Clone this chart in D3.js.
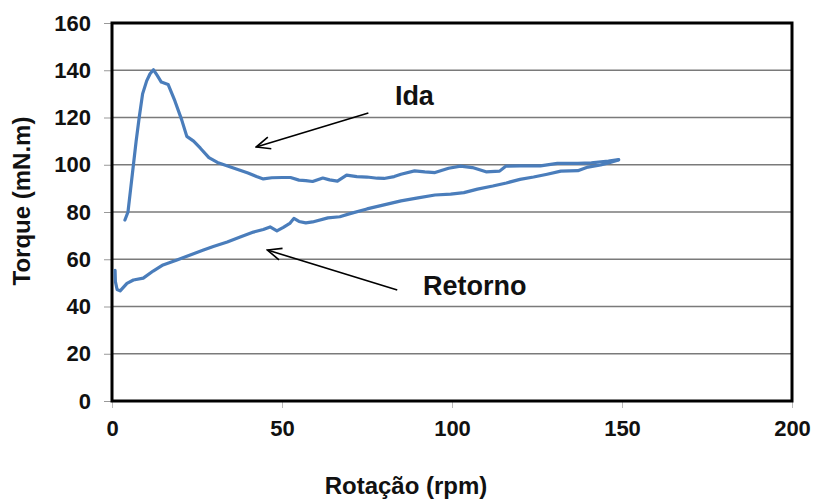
<!DOCTYPE html>
<html>
<head>
<meta charset="utf-8">
<script src="https://cdn.jsdelivr.net/npm/d3@7"></script>
<style>
  html, body { margin: 0; padding: 0; background: #fff; }
  svg { display: block; font-family: "Liberation Sans", Arial, sans-serif; font-weight: bold; }
</style>
</head>
<body>
<svg id="chart" width="814" height="502"></svg>
<script>
// Torque versus rotation: forward ("Ida") and return ("Retorno") sweeps
const idaRpm    = [3.8, 4.7, 5.5, 6.3, 7.1, 8.0, 9.0, 10.2, 11.2, 12.2, 13.2, 14.5, 16.5, 18.5, 20.5, 22, 24, 26, 28.5, 31, 34, 37, 40, 42.5, 44.5, 47, 50, 52.5, 55, 57, 59, 62, 64, 66.3, 69, 72, 75, 78, 80, 83, 85, 89, 92, 95, 99, 102.5, 106, 110, 114, 115.8, 120, 126, 131, 137, 141, 146, 149];
const idaTorque = [76.6, 80, 90, 100, 110, 120, 130, 135.5, 138.5, 140.2, 138, 135, 134, 127, 119, 112, 110, 107, 103, 101, 99.5, 98, 96.5, 95, 94, 94.5, 94.6, 94.6, 93.5, 93.3, 92.9, 94.4, 93.6, 93.1, 95.6, 95, 94.8, 94.3, 94.2, 95, 96, 97.4, 97, 96.7, 98.5, 99.4, 98.8, 97, 97.3, 99.4, 99.5, 99.5, 100.6, 100.6, 100.8, 101.6, 102.2];

const retornoRpm    = [149, 146, 143.7, 140, 137, 132, 128, 124, 120, 116, 112, 107.5, 103.5, 99.6, 95, 90, 85, 80, 75, 70, 67, 63.5, 59, 57, 55, 53.5, 52.4, 50.4, 48.5, 46.5, 44.5, 41.6, 37.7, 33.9, 29.8, 26.9, 23, 19.1, 15, 12.1, 9.2, 6.3, 4.4, 2.4, 1.5, 1.0, 0.9];
const retornoTorque = [102, 100.8, 99.9, 99, 97.5, 97.3, 96, 94.8, 93.8, 92.3, 91, 89.7, 88.2, 87.6, 87.2, 86, 84.7, 83, 81.3, 79.3, 78, 77.5, 75.8, 75.4, 76, 77.3, 75.3, 73.5, 72, 73.7, 72.6, 71.5, 69.4, 67.3, 65.4, 63.9, 61.8, 59.7, 57.6, 55, 52, 51.2, 49.8, 46.6, 47.2, 50.5, 55.3];

const xTicks = [0, 50, 100, 150, 200];
const yTicks = [0, 20, 40, 60, 80, 100, 120, 140, 160];

// Annotation labels and arrows, in data units [rpm, torque]
const annotations = [
  { text: "Ida",     label: [83.2, 125.3], from: [75.4, 121.9], to: [42.4, 107.5] },
  { text: "Retorno", label: [91.5, 44.9],  from: [83.9, 47.0],  to: [45.7, 63.9] }
];

const svg = d3.select("#chart");
const plot = { left: 112, top: 23, right: 792, bottom: 401 };

const x = d3.scaleLinear().domain([0, 200]).range([plot.left, plot.right]);
const y = d3.scaleLinear().domain([0, 160]).range([plot.bottom, plot.top]);

// Horizontal gridlines
svg.append("g")
  .selectAll("line")
  .data(yTicks.slice(1, -1))
  .join("line")
  .attr("x1", plot.left).attr("x2", plot.right)
  .attr("y1", d => y(d)).attr("y2", d => y(d))
  .attr("stroke", "#7a7a7a").attr("stroke-width", 1.3);

// Y axis
const yAxis = svg.append("g")
  .attr("transform", `translate(${plot.left},0)`)
  .call(d3.axisLeft(y).tickValues(yTicks).tickSize(8).tickPadding(13));
yAxis.select(".domain").remove();
yAxis.selectAll(".tick line").attr("stroke", "#999").attr("stroke-width", 1);
yAxis.selectAll(".tick text")
  .attr("fill", "#111").style("font-size", "22px").style("font-weight", "bold")
  .style("font-family", "'Liberation Sans', Arial, sans-serif");

// X axis
const xAxis = svg.append("g")
  .attr("transform", `translate(0,${plot.bottom})`)
  .call(d3.axisBottom(x).tickValues(xTicks).tickSize(7).tickPadding(12));
xAxis.select(".domain").remove();
xAxis.selectAll(".tick line").attr("stroke", "#bbb").attr("stroke-width", 1);
xAxis.selectAll(".tick text")
  .attr("fill", "#111").style("font-size", "22px").style("font-weight", "bold")
  .style("font-family", "'Liberation Sans', Arial, sans-serif");

// Plot frame
svg.append("rect")
  .attr("x", plot.left).attr("y", plot.top)
  .attr("width", plot.right - plot.left).attr("height", plot.bottom - plot.top)
  .attr("fill", "none").attr("stroke", "#000").attr("stroke-width", 3);

// Curves
const line = d3.line().x(d => x(d[0])).y(d => y(d[1])).curve(d3.curveLinear);
const series = [
  d3.zip(idaRpm, idaTorque),
  d3.zip(retornoRpm, retornoTorque)
];
svg.append("g")
  .selectAll("path")
  .data(series)
  .join("path")
  .attr("d", line)
  .attr("fill", "none")
  .attr("stroke", "#4a7dbb")
  .attr("stroke-width", 3.2)
  .attr("stroke-linejoin", "round")
  .attr("stroke-linecap", "round");

// Open arrowhead marker
svg.append("defs").append("marker")
  .attr("id", "arrow")
  .attr("viewBox", "0 0 16 14")
  .attr("refX", 15).attr("refY", 7)
  .attr("markerWidth", 16).attr("markerHeight", 14)
  .attr("markerUnits", "userSpaceOnUse")
  .attr("orient", "auto")
  .append("path")
  .attr("d", "M1,1 L15,7 L1,13")
  .attr("fill", "none").attr("stroke", "#000").attr("stroke-width", 1.6);

const ann = svg.append("g").selectAll("g").data(annotations).join("g");
ann.append("line")
  .attr("x1", d => x(d.from[0])).attr("y1", d => y(d.from[1]))
  .attr("x2", d => x(d.to[0])).attr("y2", d => y(d.to[1]))
  .attr("stroke", "#000").attr("stroke-width", 1.6)
  .attr("marker-end", "url(#arrow)");
ann.append("text")
  .attr("x", d => x(d.label[0])).attr("y", d => y(d.label[1]))
  .attr("fill", "#111")
  .style("font-size", "27px")
  .text(d => d.text);

// Axis titles
svg.append("text")
  .attr("x", 406).attr("y", 494)
  .attr("text-anchor", "middle").attr("fill", "#111")
  .style("font-size", "24px")
  .text("Rotação (rpm)");

svg.append("text")
  .attr("transform", "translate(30,201) rotate(-90)")
  .attr("text-anchor", "middle").attr("fill", "#111")
  .style("font-size", "24px")
  .text("Torque (mN.m)");
</script>
</body>
</html>
